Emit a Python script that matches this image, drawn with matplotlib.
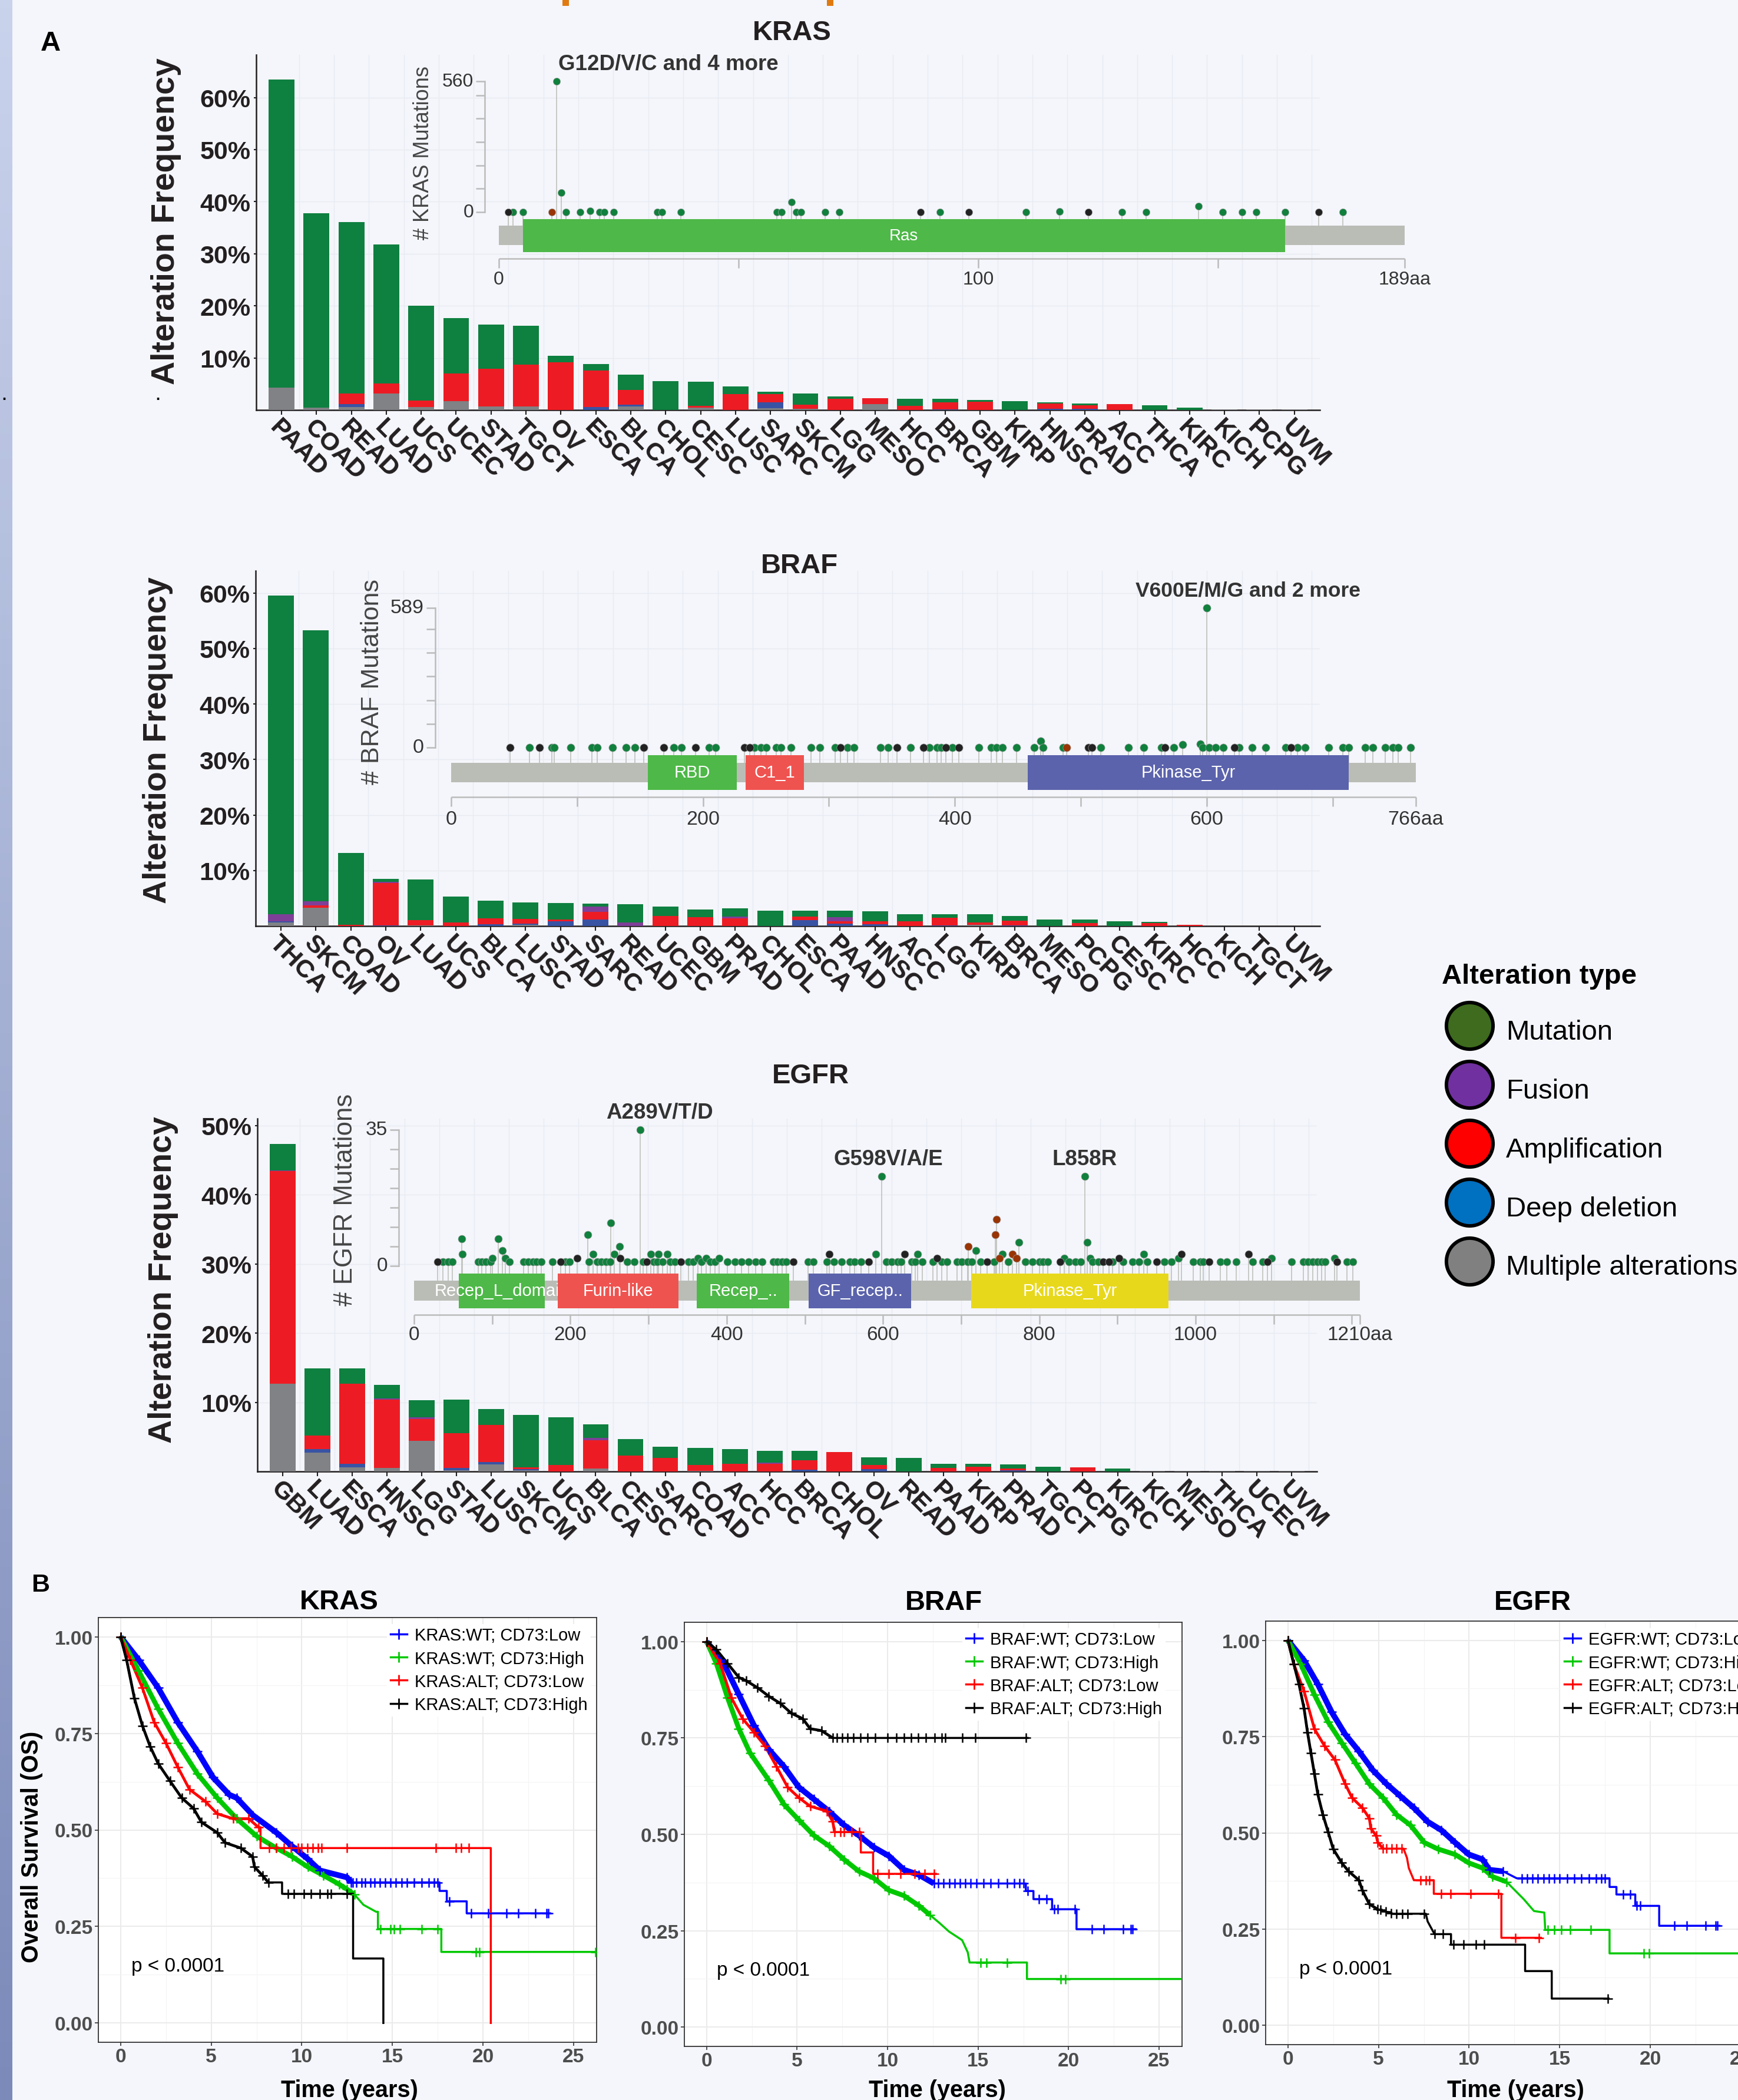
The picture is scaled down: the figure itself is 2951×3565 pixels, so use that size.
import numpy as np
import matplotlib
matplotlib.use('Agg')
import matplotlib.pyplot as plt
from matplotlib.patches import Rectangle
from matplotlib.lines import Line2D
from matplotlib.ticker import MultipleLocator
from matplotlib.colors import to_rgb

plt.rcParams['font.family'] = ['Liberation Sans', 'DejaVu Sans']

W, H = 2951, 3566
BG = '#F4F6FB'

# ---------------- A: alteration frequency (%) per cancer type ----------------
kras_types = ['PAAD', 'COAD', 'READ', 'LUAD', 'UCS', 'UCEC', 'STAD', 'TGCT', 'OV', 'ESCA',
              'BLCA', 'CHOL', 'CESC', 'LUSC', 'SARC', 'SKCM', 'LGG', 'MESO', 'HCC', 'BRCA',
              'GBM', 'KIRP', 'HNSC', 'PRAD', 'ACC', 'THCA', 'KIRC', 'KICH', 'PCPG', 'UVM']
kras_multi = [4.3, 0.5, 0.6, 3.2, 0.6, 1.7, 0.7, 0.7, 0, 0,
              0.7, 0, 0.4, 0, 0.35, 0.2, 0, 1.1, 0, 0,
              0, 0, 0, 0, 0, 0, 0, 0.1, 0.1, 0.1]
kras_deep = [0, 0, 0.5, 0, 0, 0, 0, 0, 0, 0.6,
             0.35, 0, 0, 0, 1.15, 0, 0, 0, 0, 0.1,
             0, 0, 0.2, 0.25, 0, 0, 0, 0, 0, 0]
kras_amp = [0, 0, 2.1, 1.9, 1.2, 5.3, 7.2, 8.0, 9.2, 7.0,
            2.8, 0, 0.4, 3.1, 1.55, 0.8, 2.1, 1.2, 0.8, 1.4,
            1.6, 0, 1.0, 0.6, 1.1, 0, 0, 0, 0, 0]
kras_fusion = [0, 0, 0, 0, 0, 0, 0, 0, 0, 0,
               0, 0, 0, 0, 0, 0, 0, 0, 0, 0,
               0, 0, 0, 0, 0, 0, 0, 0, 0, 0]
kras_mut = [59.2, 37.3, 32.9, 26.7, 18.2, 10.6, 8.5, 7.5, 1.2, 1.2,
            2.95, 5.5, 4.6, 1.4, 0.45, 2.2, 0.5, 0, 1.3, 0.6,
            0.3, 1.7, 0.3, 0.35, 0, 0.9, 0.5, 0, 0, 0]

braf_types = ['THCA', 'SKCM', 'COAD', 'OV', 'LUAD', 'UCS', 'BLCA', 'LUSC', 'STAD', 'SARC',
              'READ', 'UCEC', 'GBM', 'PRAD', 'CHOL', 'ESCA', 'PAAD', 'HNSC', 'ACC', 'LGG',
              'KIRP', 'BRCA', 'MESO', 'PCPG', 'CESC', 'KIRC', 'HCC', 'KICH', 'TGCT', 'UVM']
braf_multi = [0.6, 3.3, 0, 0, 0.15, 0, 0, 0.2, 0, 0,
              0, 0, 0, 0, 0, 0, 0, 0, 0, 0,
              0.25, 0, 0, 0, 0, 0, 0, 0.05, 0.05, 0.05]
braf_deep = [0.2, 0, 0, 0.1, 0, 0, 0.3, 0.25, 0.8, 1.2,
             0, 0, 0, 0, 0, 1.1, 0.4, 0.3, 0, 0.1,
             0, 0.1, 0, 0, 0, 0, 0, 0, 0, 0]
braf_amp = [0, 0.4, 0.2, 7.7, 0.9, 0.65, 1.1, 0.85, 0.4, 1.4,
            0, 1.8, 1.6, 1.4, 0, 0.6, 0.5, 0.5, 0.9, 1.4,
            0.4, 0.9, 0, 0.5, 0, 0.5, 0.25, 0, 0, 0]
braf_fusion = [1.3, 0.8, 0, 0.2, 0, 0, 0, 0, 0, 0.9,
               0.6, 0, 0, 0.3, 0, 0, 0.65, 0, 0, 0,
               0, 0, 0, 0, 0, 0, 0, 0, 0, 0]
braf_mut = [57.4, 48.8, 13.0, 0.5, 7.35, 4.65, 3.2, 2.9, 2.9, 0.5,
            3.3, 1.7, 1.4, 1.45, 2.8, 1.1, 1.2, 1.85, 1.2, 0.6,
            1.45, 0.8, 1.15, 0.65, 0.9, 0.2, 0, 0, 0, 0]

egfr_types = ['GBM', 'LUAD', 'ESCA', 'HNSC', 'LGG', 'STAD', 'LUSC', 'SKCM', 'UCS', 'BLCA',
              'CESC', 'SARC', 'COAD', 'ACC', 'HCC', 'BRCA', 'CHOL', 'OV', 'READ', 'PAAD',
              'KIRP', 'PRAD', 'TGCT', 'PCPG', 'KIRC', 'KICH', 'MESO', 'THCA', 'UCEC', 'UVM']
egfr_multi = [12.7, 2.7, 0.6, 0.5, 4.4, 0.2, 1.0, 0.15, 0, 0.45,
              0, 0, 0.1, 0, 0, 0, 0, 0, 0, 0,
              0, 0, 0, 0, 0, 0.05, 0.05, 0.05, 0.05, 0.05]
egfr_deep = [0, 0.5, 0.5, 0, 0, 0.3, 0.4, 0.2, 0, 0,
             0, 0, 0, 0, 0, 0.25, 0, 0.35, 0, 0,
             0, 0.2, 0, 0, 0, 0, 0, 0, 0, 0]
egfr_amp = [30.7, 2.0, 11.6, 9.85, 3.2, 5.0, 5.3, 0.25, 0.9, 4.1,
            2.3, 1.95, 0.8, 1.1, 1.1, 1.4, 2.8, 0.6, 0, 0.55,
            0.7, 0.2, 0, 0.6, 0, 0, 0, 0, 0, 0]
egfr_fusion = [0.15, 0, 0, 0.2, 0.2, 0, 0, 0, 0, 0.3,
               0, 0, 0, 0, 0.2, 0, 0, 0, 0, 0,
               0, 0, 0, 0, 0, 0, 0, 0, 0, 0]
egfr_mut = [3.8, 9.7, 2.2, 2.0, 2.5, 4.9, 2.3, 7.6, 6.9, 1.95,
            2.4, 1.65, 2.5, 2.1, 1.7, 1.35, 0, 1.1, 1.95, 0.55,
            0.4, 0.6, 0.7, 0, 0.45, 0, 0, 0, 0, 0]

# ---------------- lollipop insets: mutation positions (aa) ----------------
kras_len = 189
kras_pos = [2, 3, 5, 11, 12, 13, 14, 17, 19, 21, 22, 24, 33, 34, 38, 58, 59, 61, 62, 63,
            68, 71, 88, 92, 98, 110, 117, 123, 130, 135, 146, 151, 155, 158, 164, 171, 176]
kras_peaks = {12: 560, 13: 83, 19: 6, 61: 44, 117: 3, 146: 24}
kras_trunc = [2, 88, 98, 123, 171]
kras_inframe = [11]
kras_dom_start = [5]
kras_dom_end = [164]
kras_dom_name = ['Ras']
kras_notes = [('G12D/V/C and 4 more', 35.3, 12)]

braf_len = 766
braf_pos = [47, 62, 70, 80, 82, 95, 112, 116, 128, 139, 146, 153, 169, 177, 183, 194, 205,
            210, 233, 237, 241, 246, 250, 258, 262, 270, 286, 293, 305, 309, 315, 320, 341,
            347, 354, 365, 375, 380, 386, 389, 393, 398, 403, 419, 429, 433, 438, 449, 463,
            468, 470, 486, 489, 506, 509, 516, 538, 550, 564, 567, 574, 581, 595, 597, 600,
            602, 607, 613, 622, 626, 636, 647, 663, 667, 672, 678, 697, 708, 713, 726, 732,
            742, 748, 752, 762]
braf_peaks = {600: 589, 468: 27, 581: 12, 595: 14}
braf_trunc = [47, 70, 153, 169, 194, 233, 237, 309, 354, 375, 393, 403, 506, 509, 567,
              622, 667]
braf_inframe = [489]
braf_dom_start = [156, 234, 458]
braf_dom_end = [227, 280, 713]
braf_dom_name = ['RBD', 'C1_1', 'Pkinase_Tyr']
braf_notes = [('V600E/M/G and 2 more', 633, 600)]

egfr_len = 1210
egfr_pos = [30, 37, 44, 49, 61, 62, 82, 87, 92, 98, 100, 108, 113, 117, 122, 140, 146, 152,
            157, 163, 177, 188, 194, 199, 209, 222, 224, 229, 234, 240, 246, 251, 252, 256,
            263, 264, 273, 282, 289, 293, 298, 303, 307, 311, 313, 318, 324, 328, 334, 341,
            351, 357, 363, 368, 374, 379, 385, 390, 401, 411, 419, 428, 437, 445, 460, 465,
            471, 476, 485, 504, 511, 528, 531, 537, 547, 558, 564, 572, 582, 591, 598, 604,
            611, 619, 623, 628, 637, 641, 644, 650, 664, 669, 675, 682, 695, 701, 708, 709,
            714, 719, 725, 733, 742, 744, 745, 749, 753, 760, 766, 771, 774, 782, 791, 800,
            805, 811, 827, 832, 838, 846, 853, 858, 861, 865, 868, 876, 882, 889, 894, 902,
            907, 919, 928, 934, 938, 950, 960, 969, 978, 982, 997, 1006, 1010, 1017, 1032,
            1040, 1052, 1068, 1073, 1086, 1092, 1097, 1123, 1138, 1144, 1150, 1156, 1161,
            1166, 1178, 1181, 1194, 1201]
egfr_peaks = {61: 7, 62: 3, 100: 2, 108: 7, 113: 4, 117: 2, 209: 2, 222: 8, 229: 3, 252: 11,
              256: 3, 263: 5, 264: 2, 289: 35, 303: 3, 313: 3, 324: 3, 363: 2, 374: 2, 390: 2,
              531: 3, 591: 3, 598: 23, 628: 3, 644: 3, 669: 2, 709: 5, 719: 4, 744: 8, 745: 12,
              749: 2, 753: 3, 766: 3, 771: 2, 774: 6, 832: 2, 858: 23, 861: 6, 865: 2, 902: 2,
              934: 3, 978: 2, 982: 3, 1068: 3, 1097: 2, 1178: 2}
egfr_trunc = [30, 188, 209, 264, 298, 341, 485, 531, 582, 628, 669, 733, 827, 882, 889, 902,
              950, 982, 1017, 1068, 1092, 1181]
egfr_inframe = [709, 744, 745, 749, 766, 771]
egfr_dom_start = [57, 184, 362, 505, 713]
egfr_dom_end = [167, 338, 480, 636, 965]
egfr_dom_name = ['Recep_L_domain', 'Furin-like', 'Recep_..', 'GF_recep..', 'Pkinase_Tyr']
egfr_notes = [('A289V/T/D', 314, 289), ('G598V/A/E', 607, 598), ('L858R', 858, 858)]

alt_types = ['Mutation', 'Fusion', 'Amplification', 'Deep deletion', 'Multiple alterations']

# ---------------- B: Kaplan-Meier curves (vertices; repeated time = drop) ----------------
km_groups = ['WT; CD73:Low', 'WT; CD73:High', 'ALT; CD73:Low', 'ALT; CD73:High']

kras_wt_low_t = [0, 1.0, 2.07, 3.15, 4.24, 5.1, 6.0, 6.4, 7.3, 8.6, 9.46, 10.3, 11.0, 12.5, 12.7,
                 17.6, 17.6, 18.0, 18.0, 19.1, 19.1, 23.7]
kras_wt_low_s = [1.0, 0.94, 0.868, 0.779, 0.703, 0.636, 0.591, 0.583, 0.538, 0.493, 0.458, 0.426,
                 0.395, 0.377, 0.364, 0.364, 0.342, 0.342, 0.315, 0.315, 0.284, 0.284]
kras_wt_low_c = [12.8, 13.0, 13.3, 13.5, 13.8, 14.0, 14.3, 14.6, 14.9, 15.2, 15.5, 15.8, 16.2,
                 16.6, 17.0, 17.3, 17.5, 18.15, 19.35, 20.3, 21.3, 21.96, 22.9, 23.5, 23.6]
kras_wt_high_t = [0, 0.98, 2.07, 3.15, 4.24, 5.33, 6.41, 7.5, 8.59, 9.46, 10.33, 11.2, 12.07,
                  12.5, 12.9, 13.4, 14.1, 14.2, 14.2, 17.7, 17.7, 26.3]
kras_wt_high_s = [1.0, 0.913, 0.814, 0.725, 0.645, 0.583, 0.529, 0.484, 0.453, 0.431, 0.404,
                  0.382, 0.359, 0.346, 0.333, 0.306, 0.288, 0.288, 0.2435, 0.2435, 0.184, 0.184]
kras_wt_high_c = [14.35, 14.9, 15.1, 15.4, 16.6, 17.5, 19.6, 19.8, 26.2]
kras_alt_low_t = [0, 0.54, 1.2, 1.85, 2.5, 3.15, 3.8, 4.67, 5.33, 6.2, 7.07, 7.6, 7.72, 7.72,
                  20.43, 20.43]
kras_alt_low_s = [1.0, 0.94, 0.868, 0.779, 0.725, 0.663, 0.605, 0.574, 0.542, 0.529, 0.529,
                  0.507, 0.507, 0.453, 0.453, 0.0]
kras_alt_low_c = [8.2, 8.6, 9.0, 9.4, 9.8, 10.0, 10.3, 10.6, 10.9, 11.1, 12.5, 17.4, 18.5,
                  18.8, 19.2]
kras_alt_high_t = [0, 0.33, 0.76, 1.2, 1.63, 2.07, 2.72, 3.37, 4.02, 4.46, 5.33, 5.76, 6.63,
                   7.28, 7.39, 7.83, 8.15, 8.91, 8.91, 12.83, 12.83, 14.5, 14.5]
kras_alt_high_s = [1.0, 0.94, 0.841, 0.77, 0.716, 0.672, 0.627, 0.583, 0.556, 0.52, 0.493,
                   0.467, 0.453, 0.431, 0.404, 0.382, 0.364, 0.364, 0.3345, 0.3345, 0.167,
                   0.167, 0.0]
kras_alt_high_c = [9.24, 9.57, 10.1, 10.5, 11.0, 11.4, 11.6, 12.5]

braf_wt_low_t = [0, 0.95, 1.78, 2.61, 3.44, 4.27, 5.1, 5.93, 6.76, 7.59, 8.42, 9.25, 10.07,
                 10.9, 11.73, 12.56, 17.64, 17.64, 18.06, 18.06, 19.09, 19.09, 20.44, 20.44,
                 23.71]
braf_wt_low_s = [1.0, 0.943, 0.863, 0.783, 0.72, 0.676, 0.622, 0.591, 0.56, 0.524, 0.497,
                 0.466, 0.444, 0.408, 0.395, 0.3725, 0.3725, 0.353, 0.353, 0.332, 0.332,
                 0.3057, 0.3057, 0.254, 0.254]
braf_wt_low_c = [12.8, 13.1, 13.4, 13.7, 14.0, 14.3, 14.6, 14.9, 15.3, 15.7, 16.1, 16.6, 17.0,
                 17.3, 17.5, 17.75, 18.37, 18.78, 19.2, 19.4, 20.34, 21.3, 21.93, 23.03, 23.45,
                 23.55]
braf_wt_high_t = [0, 0.54, 1.16, 1.78, 2.4, 3.44, 4.27, 5.1, 5.93, 6.76, 7.59, 8.42, 9.25,
                  10.07, 10.9, 11.73, 12.35, 12.87, 13.39, 14.12, 14.43, 14.53, 17.7, 17.7,
                  26.24]
braf_wt_high_s = [1.0, 0.943, 0.854, 0.774, 0.711, 0.64, 0.578, 0.537, 0.497, 0.47, 0.435,
                  0.404, 0.386, 0.355, 0.341, 0.315, 0.2905, 0.27, 0.248, 0.2255, 0.194,
                  0.1676, 0.1676, 0.1248, 0.1248]
braf_wt_high_c = [15.15, 15.46, 16.6, 19.57, 19.82]
braf_alt_low_t = [0, 0.75, 1.37, 1.99, 2.61, 3.23, 3.86, 4.48, 5.1, 5.72, 6.65, 6.97, 7.07,
                  8.52, 8.52, 9.2, 9.2, 12.67]
braf_alt_low_s = [1.0, 0.943, 0.854, 0.8, 0.765, 0.729, 0.676, 0.622, 0.595, 0.573, 0.56,
                  0.533, 0.506, 0.506, 0.453, 0.453, 0.3975, 0.3975]
braf_alt_low_c = [7.38, 7.59, 8.0, 8.42, 9.45, 10.07, 10.7, 11.5, 12.04, 12.56]
braf_alt_high_t = [0, 0.54, 1.16, 1.78, 2.2, 2.82, 3.44, 4.06, 4.68, 5.31, 5.72, 6.34, 6.97,
                   17.74]
braf_alt_high_s = [1.0, 0.979, 0.943, 0.907, 0.898, 0.88, 0.858, 0.84, 0.814, 0.8, 0.774,
                   0.769, 0.75, 0.75]
braf_alt_high_c = [7.2, 7.5, 7.8, 8.1, 8.5, 8.9, 9.3, 10.0, 10.5, 10.9, 11.3, 11.7, 12.1,
                   12.6, 13.0, 13.2, 14.12, 14.84, 17.64]

egfr_wt_low_t = [0, 0.89, 1.65, 2.41, 3.16, 3.92, 4.68, 5.44, 6.19, 6.95, 7.71, 8.47, 9.22,
                 9.98, 10.74, 11.12, 11.88, 12.63, 17.75, 17.75, 18.13, 18.13, 19.17, 19.17,
                 20.49, 20.49, 23.8]
egfr_wt_low_s = [1.0, 0.948, 0.886, 0.814, 0.756, 0.712, 0.663, 0.627, 0.596, 0.565, 0.529,
                 0.507, 0.475, 0.444, 0.431, 0.404, 0.4, 0.382, 0.382, 0.3595, 0.3595, 0.34,
                 0.34, 0.3104, 0.3104, 0.2587, 0.2587]
egfr_wt_low_c = [12.9, 13.2, 13.5, 13.8, 14.1, 14.4, 14.7, 15.0, 15.4, 15.8, 16.2, 16.6, 17.0,
                 17.3, 17.5, 18.5, 18.9, 19.26, 19.45, 21.34, 22.0, 23.05, 23.6, 23.7]
egfr_wt_high_t = [0, 0.7, 1.46, 2.22, 2.97, 3.73, 4.49, 5.25, 6.0, 6.76, 7.52, 8.28, 9.22,
                  9.98, 10.74, 11.3, 12.06, 12.44, 13.01, 13.58, 14.15, 14.2, 17.75, 17.75,
                  26.3]
egfr_wt_high_s = [1.0, 0.939, 0.859, 0.788, 0.734, 0.681, 0.627, 0.591, 0.547, 0.52, 0.475,
                  0.458, 0.444, 0.422, 0.4086, 0.386, 0.373, 0.355, 0.328, 0.297, 0.293,
                  0.248, 0.248, 0.187, 0.187]
egfr_wt_high_c = [14.34, 14.7, 15.1, 15.57, 16.7, 19.64, 19.92]
egfr_alt_low_t = [0, 0.32, 0.89, 1.46, 2.03, 2.59, 3.16, 3.54, 4.11, 4.49, 4.58, 4.87, 4.96,
                  5.25, 6.38, 6.57, 6.67, 6.95, 8.05, 8.05, 11.78, 11.78, 13.96]
egfr_alt_low_s = [1.0, 0.939, 0.868, 0.77, 0.725, 0.69, 0.627, 0.591, 0.565, 0.538, 0.511,
                  0.493, 0.475, 0.459, 0.459, 0.435, 0.4086, 0.377, 0.377, 0.3417, 0.3417,
                  0.2275, 0.2275]
egfr_alt_low_c = [5.44, 5.72, 6.0, 6.29, 7.33, 7.6, 7.8, 8.47, 8.98, 10.08, 11.6, 12.54, 13.86]
egfr_alt_high_t = [0, 0.32, 0.61, 0.89, 1.08, 1.27, 1.46, 1.65, 1.93, 2.22, 2.5, 2.97, 3.35,
                   3.92, 4.11, 4.49, 4.96, 5.81, 7.61, 7.71, 8.09, 9.0, 9.0, 13.09, 13.09,
                   14.56, 14.56, 17.7]
egfr_alt_high_s = [1.0, 0.939, 0.886, 0.823, 0.761, 0.707, 0.654, 0.6, 0.547, 0.502, 0.458,
                   0.422, 0.4, 0.377, 0.3506, 0.315, 0.3015, 0.29, 0.29, 0.27, 0.237, 0.237,
                   0.2096, 0.2096, 0.141, 0.141, 0.0696, 0.0696]
egfr_alt_high_c = [5.1, 5.4, 5.7, 6.0, 6.3, 6.6, 7.52, 8.09, 8.56, 9.13, 9.7, 10.36, 10.83,
                   17.65]

# ---------------- styles ----------------
C_MUT, C_FUS, C_AMP, C_DEEP, C_MULTI = '#0E8040', '#7F3F98', '#ED1C24', '#3953A4', '#808285'
LEG_COLORS = ['#3E6B1E', '#7030A0', '#FF0000', '#0070C0', '#808080']
KM_COLORS = ['#0000FF', '#00C800', '#FF0000', '#000000']
KM_BAND_LW = [7.0, 6.0, 3.4, 3.4]
MISSENSE, TRUNC, INFRAME = '#10803D', '#222222', '#993404'
STEM, PROT, AXC = '#BABDB6', '#BABDB6', '#BBBBBB'
DARK = '#231F20'

fig = plt.figure(figsize=(W / 100, H / 100), dpi=100, facecolor=BG)


def fx(x):
    return x / W


def fy(y):
    return 1 - y / H


def add_ax(x0, y0, x1, y1):
    return fig.add_axes([fx(x0), fy(y1), (x1 - x0) / W, (y1 - y0) / H])


def ftext(x, y, s, **kw):
    kw.setdefault('ha', 'center')
    kw.setdefault('va', 'center')
    fig.text(fx(x), fy(y), s, **kw)


# left blue strip and small artefacts of the page
strip = fig.add_axes([0, 0, 21 / W, 1])
g = np.linspace(0, 1, 256)[:, None, None]
strip.imshow(np.array(to_rgb('#CAD3EC')) * (1 - g) + np.array(to_rgb('#7B8AB9')) * g,
             aspect='auto', extent=(0, 1, 0, 1))
strip.axis('off')
for xo in (955, 1404):
    fig.add_artist(Rectangle((fx(xo), fy(11)), 11 / W, 11 / H, transform=fig.transFigure,
                             color='#E07A10', lw=0))
ftext(7, 672, '.', fontsize=18, fontweight='bold')
ftext(268, 672, '.', fontsize=18, fontweight='bold')


def bar_panel(box, ymax, ytop, types, multi, deep, amp, fusion, mut):
    ax = add_ax(*box)
    ax.set_facecolor('none')
    n = len(types)
    x = np.arange(n)
    base = np.zeros(n)
    for vals, col in zip([multi, deep, amp, fusion, mut], [C_MULTI, C_DEEP, C_AMP, C_FUS, C_MUT]):
        v = np.asarray(vals, float)
        ax.bar(x, v, width=0.74, bottom=base, color=col, lw=0, zorder=3)
        base = base + v
    ax.set_xlim(-0.725, n - 1 + 0.73)
    ax.set_ylim(0, ymax)
    yt = np.arange(10, ytop + 1, 10)
    ax.set_yticks(yt)
    ax.set_yticklabels([f'{int(v)}%' for v in yt], fontsize=31, fontweight='bold', color=DARK)
    ax.set_xticks(x)
    ax.set_xticklabels(types, rotation=-45, ha='left', va='top', rotation_mode='anchor',
                       fontsize=31, fontweight='bold', color=DARK)
    ax.set_xticks(x + 0.5, minor=True)
    ax.tick_params(axis='x', which='major', length=6, width=1.5, pad=0, color=DARK)
    ax.tick_params(axis='x', which='minor', length=0)
    ax.tick_params(axis='y', length=3, width=1.5, pad=4, color=DARK)
    ax.grid(which='minor', axis='x', color='#E8EBF2', lw=1.0)
    ax.grid(which='major', axis='y', color='#E8EBF2', lw=1.0)
    ax.set_axisbelow(True)
    for sp in ['top', 'right']:
        ax.spines[sp].set_visible(False)
    for sp in ['left', 'bottom']:
        ax.spines[sp].set_linewidth(1.8)
        ax.spines[sp].set_color(DARK)
    return ax


def lollipop(sp, length, pos, peaks, trunc, inframe, d_start, d_end, d_name, d_col, notes):
    x0, y0, x1, y1 = sp['box']
    aa0, ppa, c0, ppc = sp['aa0'], sp['ppa'], sp['c0'], sp['ppc']
    ax = add_ax(x0, y0, x1, y1)
    ax.set_xlim((x0 - aa0) / ppa, (x1 - aa0) / ppa)
    ax.set_ylim((c0 - y1) / ppc, (c0 - y0) / ppc)
    ax.axis('off')

    def cy(ypx):
        return (c0 - ypx) / ppc

    p = np.asarray(pos, float)
    cnt = np.array([peaks.get(v, 1) for v in pos], float)
    kind = np.array(['t' if v in trunc else 'i' if v in inframe else 'm' for v in pos])
    bar_top, bar_bot = sp['bar']
    ax.vlines(p, cy(bar_top), cnt, color=STEM, lw=1.1, zorder=1)
    for k, col in [('m', MISSENSE), ('i', INFRAME), ('t', TRUNC)]:
        sel = kind == k
        ax.plot(p[sel], cnt[sel], 'o', ls='none', ms=sp['dot'], mfc=col, mec='#A0A0A0',
                mew=0.5, zorder=2)
    ax.add_patch(Rectangle((0, cy(bar_bot)), length, cy(bar_top) - cy(bar_bot), fc=PROT,
                           ec='none', zorder=3))
    dtop, dbot = sp['dom']
    for i, (a, b, name, col) in enumerate(zip(d_start, d_end, d_name, d_col)):
        ax.add_patch(Rectangle((a, cy(dbot)), b - a, cy(dtop) - cy(dbot), fc=col, ec='none',
                               zorder=4 + 2 * i))
        ax.text((a + b) / 2, cy((dtop + dbot) / 2), name, color='white', fontsize=sp['dom_fs'],
                ha='center', va='center', zorder=5 + 2 * i)
    ay = sp['axis_y']
    ax.plot([0, length], [cy(ay), cy(ay)], color=AXC, lw=1.8, solid_capstyle='butt')
    ax.vlines(sp['xticks'], cy(ay + 16), cy(ay), color=AXC, lw=1.8)
    for v in sp['xlabels']:
        lab = f'{v}aa' if v == length else str(v)
        ax.text(v, cy(sp['label_y']), lab, ha='center', va='center', fontsize=sp['tick_fs'],
                color='#333333')
    xa = (sp['yaxis_x'] - aa0) / ppa
    top = int(cnt.max())
    yt = list(range(0, top, sp['ystep'])) + [top]
    ax.plot([xa, xa], [0, top], color=AXC, lw=1.8)
    ax.hlines(yt, xa - 15 / ppa, xa, color=AXC, lw=1.8)
    for v in (0, top):
        ax.text(xa - 19 / ppa, v, str(v), ha='right', va='center', fontsize=sp['tick_fs'],
                color='#333333')
    ax.text((sp['ylab_x'] - aa0) / ppa, cy(sp['ylab_y']), sp['ylab'], rotation=90, ha='center',
            va='center', fontsize=sp['ylab_fs'], color='#444444')
    for label, xl, mpos in notes:
        ax.text(xl, peaks[mpos] + 30 / ppc, label, ha='center', va='center',
                fontsize=sp['note_fs'], fontweight='bold', color='#333333')


def km_panel(box, gene, curves, bands, leg_px):
    x0, y0, x1, y1 = box
    ax = add_ax(*box)
    ax.set_facecolor('white')
    ax.set_xlim(-1.23, 26.27)
    ax.set_ylim(-0.05, 1.05)
    ax.set_xticks([0, 5, 10, 15, 20, 25])
    ax.set_yticks([0, 0.25, 0.5, 0.75, 1.0])
    ax.set_yticklabels(['0.00', '0.25', '0.50', '0.75', '1.00'])
    ax.xaxis.set_minor_locator(MultipleLocator(2.5))
    ax.yaxis.set_minor_locator(MultipleLocator(0.125))
    ax.grid(which='major', color='#EBEBEB', lw=1.5)
    ax.grid(which='minor', color='#F4F4F4', lw=0.8)
    ax.set_axisbelow(True)
    ax.tick_params(which='minor', length=0)
    ax.tick_params(which='major', length=4.5, width=1.2, color='#333333', labelsize=24,
                   labelcolor='#4D4D4D', pad=2)
    for lab in ax.get_xticklabels() + ax.get_yticklabels():
        lab.set_fontweight('bold')
    for s in ax.spines.values():
        s.set_color('#333333')
        s.set_linewidth(1.3)
    handles, labels = [], []
    for (t, s, c), col, band, blw, grp in zip(curves, KM_COLORS, bands, KM_BAND_LW, km_groups):
        t = np.asarray(t, float)
        s = np.asarray(s, float)
        ax.plot(t, s, color=col, lw=2.5, zorder=3)
        dense = t <= band
        ax.plot(t[dense], s[dense], color=col, lw=blw, zorder=3, solid_capstyle='butt')
        ax.plot(t[dense], s[dense], ls='none', marker='+', ms=11, mew=1.8, color=col, zorder=4)
        c = np.asarray(c, float)
        ax.plot(c, np.interp(c, t, s), ls='none', marker='+', ms=11, mew=1.8, color=col,
                zorder=4)
        handles.append(Line2D([], [], color=col, lw=2.5, marker='+', ms=13, mew=2))
        labels.append(f'{gene}:{grp}')
    fs = 21
    fs_px = fs / 0.72
    hx, hy = leg_px
    bx = (hx - 0.2 * fs_px - x0) / (x1 - x0)
    by = (y1 - (hy - 0.6 * fs_px - 0.2 * fs_px)) / (y1 - y0)
    ax.legend(handles, labels, loc='upper left', bbox_to_anchor=(bx, by), fontsize=fs,
              frameon=True, facecolor='white', edgecolor='none', framealpha=1, fancybox=False,
              borderpad=0.2, labelspacing=0.38, handlelength=0.95, handletextpad=0.45,
              borderaxespad=0)
    return ax


# ---------------- panel A ----------------
bar_panel((435, 94, 2241, 697), 68.2, 60, kras_types, kras_multi, kras_deep, kras_amp,
          kras_fusion, kras_mut)
bar_panel((434, 970, 2241, 1573), 64.0, 60, braf_types, braf_multi, braf_deep, braf_amp,
          braf_fusion, braf_mut)
bar_panel((437, 1900, 2236, 2499), 51.0, 50, egfr_types, egfr_multi, egfr_deep, egfr_amp,
          egfr_fusion, egfr_mut)

kras_spec = dict(box=(560, 60, 2520, 520), aa0=847, ppa=8.14, c0=361, ppc=0.3964,
                 bar=(384, 417), dom=(373, 429), axis_y=440, label_y=475,
                 xticks=[0, 50, 100, 150, 189], xlabels=[0, 100, 189], yaxis_x=823, ystep=100,
                 ylab='# KRAS Mutations', ylab_x=718, ylab_y=260, ylab_fs=26, tick_fs=23,
                 note_fs=26.5, dom_fs=20, dot=8.8)
braf_spec = dict(box=(560, 960, 2520, 1430), aa0=766, ppa=2.138, c0=1270, ppc=0.4024,
                 bar=(1296, 1329), dom=(1283, 1342), axis_y=1354, label_y=1391,
                 xticks=[0, 100, 200, 300, 400, 500, 600, 700, 766],
                 xlabels=[0, 200, 400, 600, 766], yaxis_x=739, ystep=100,
                 ylab='# BRAF Mutations', ylab_x=632, ylab_y=1158, ylab_fs=31, tick_fs=24.5,
                 note_fs=25.5, dom_fs=21, dot=9.5)
egfr_spec = dict(box=(520, 1850, 2520, 2310), aa0=703, ppa=1.327, c0=2150, ppc=6.6,
                 bar=(2175, 2209), dom=(2163, 2222), axis_y=2233, label_y=2267,
                 xticks=[0, 100, 200, 300, 400, 500, 600, 700, 800, 900, 1000, 1100, 1200, 1210],
                 xlabels=[0, 200, 400, 600, 800, 1000, 1210], yaxis_x=677, ystep=5,
                 ylab='# EGFR Mutations', ylab_x=586, ylab_y=2037, ylab_fs=31.5, tick_fs=24,
                 note_fs=26.5, dom_fs=21, dot=9.3)

lollipop(kras_spec, kras_len, kras_pos, kras_peaks, kras_trunc, kras_inframe,
         kras_dom_start, kras_dom_end, kras_dom_name, ['#4EB848'], kras_notes)
lollipop(braf_spec, braf_len, braf_pos, braf_peaks, braf_trunc, braf_inframe,
         braf_dom_start, braf_dom_end, braf_dom_name, ['#4EB848', '#EF5350', '#5B63AC'],
         braf_notes)
lollipop(egfr_spec, egfr_len, egfr_pos, egfr_peaks, egfr_trunc, egfr_inframe,
         egfr_dom_start, egfr_dom_end, egfr_dom_name,
         ['#4EB848', '#EF5350', '#4EB848', '#5B63AC', '#E8D81C'], egfr_notes)

ftext(86, 74, 'A', fontsize=34, fontweight='bold')
for s, (x, y) in zip(['KRAS', 'BRAF', 'EGFR'], [(1345, 56), (1357, 961), (1376, 1827)]):
    ftext(x, y, s, fontsize=34, fontweight='bold', color=DARK)
for x, y in [(282, 376), (268, 1257), (277, 2173)]:
    ftext(x, y, 'Alteration Frequency', fontsize=40, fontweight='bold', rotation=90, color=DARK)

# legend of alteration types
leg_handles = [Line2D([], [], ls='none', marker='o', ms=57, mfc=c, mec='black', mew=4.3)
               for c in LEG_COLORS]
leg = fig.legend(leg_handles, alt_types, loc='upper left', bbox_to_anchor=(fx(2448), fy(1636)),
                 title='Alteration type', frameon=False, fontsize=34, title_fontsize=34,
                 borderpad=0, borderaxespad=0, handlelength=2.0, handleheight=1.6,
                 handletextpad=0.31, labelspacing=0.83, alignment='left')
leg.get_title().set_fontweight('bold')

# ---------------- panel B ----------------
ftext(69, 2691, 'B', fontsize=31, fontweight='bold')
km_panel((167, 2747, 1013, 3468), 'KRAS',
         [(kras_wt_low_t, kras_wt_low_s, kras_wt_low_c),
          (kras_wt_high_t, kras_wt_high_s, kras_wt_high_c),
          (kras_alt_low_t, kras_alt_low_s, kras_alt_low_c),
          (kras_alt_high_t, kras_alt_high_s, kras_alt_high_c)],
         [12.7, 12.9, 7.7, 8.9], (663, 2781))
km_panel((1162, 2755, 2007, 3475), 'BRAF',
         [(braf_wt_low_t, braf_wt_low_s, braf_wt_low_c),
          (braf_wt_high_t, braf_wt_high_s, braf_wt_high_c),
          (braf_alt_low_t, braf_alt_low_s, braf_alt_low_c),
          (braf_alt_high_t, braf_alt_high_s, braf_alt_high_c)],
         [12.6, 12.4, 7.1, 7.0], (1640, 2788))
km_panel((2149, 2753, 2995, 3472), 'EGFR',
         [(egfr_wt_low_t, egfr_wt_low_s, egfr_wt_low_c),
          (egfr_wt_high_t, egfr_wt_high_s, egfr_wt_high_c),
          (egfr_alt_low_t, egfr_alt_low_s, egfr_alt_low_c),
          (egfr_alt_high_t, egfr_alt_high_s, egfr_alt_high_c)],
         [12.6, 12.4, 5.3, 5.8], (2656, 2788))

for s, (x, y) in zip(['KRAS', 'BRAF', 'EGFR'], [(576, 2720), (1602, 2721), (2602, 2721)]):
    ftext(x, y, s, fontsize=34, fontweight='bold', color='black')
for x, y in [(223, 3339), (1217, 3346), (2206, 3344)]:
    ftext(x, y, 'p < 0.0001', fontsize=24, ha='left', color='black')
for x in (593, 1591, 2573):
    ftext(x, 3549, 'Time (years)', fontsize=28.5, fontweight='bold', color='black')
ftext(54, 3135, 'Overall Survival (OS)', fontsize=28.5, fontweight='bold', rotation=90,
      color='black')

fig.savefig('out.png', dpi=100, facecolor=BG)
